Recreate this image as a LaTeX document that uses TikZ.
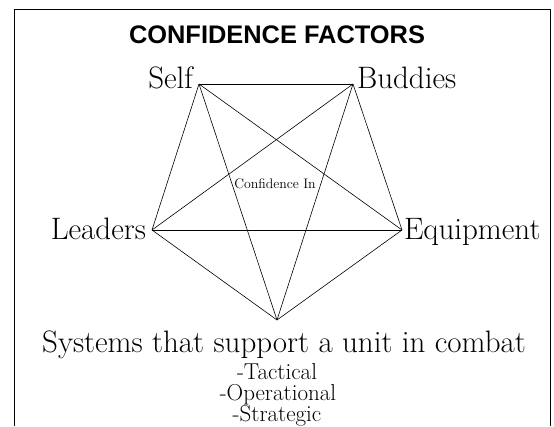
\documentclass[tikz,border=0pt]{standalone}
\usepackage{fontspec}
\newfontfamily\titlefont{Liberation Sans}

\tikzset{
  every node/.style={inner sep=0pt, outer sep=0pt},
  factor/.style={font=\fontsize{31}{34}\selectfont},
  level/.style={font=\fontsize{23}{25}\selectfont, anchor=base},
  tie/.style={line width=0.6pt},
}

\begin{document}
\begin{tikzpicture}[x=1pt, y=-1pt]
\useasboundingbox (0,0) rectangle (554,426);

% frame, open at the bottom
\draw[line width=0.9pt] (14,426) -- (14,9.5) -- (550,9.5) -- (550,426);

\node[font=\titlefont\bfseries\fontsize{25.4}{30}\selectfont, anchor=base] (title) at (277,43) {CONFIDENCE FACTORS};

% corners of the star
\coordinate (self) at (199,84);
\coordinate (buddies) at (353,84);
\coordinate (leaders) at (152,230);
\coordinate (equipment) at (402,230);
\coordinate (systems) at (277,320);

\node[factor, anchor=base east] (selflbl) at (193,88) {Self};
\node[factor, anchor=base west] (buddieslbl) at (357,88) {Buddies};
\node[factor, anchor=base east] (leaderslbl) at (146,239) {Leaders};
\node[factor, anchor=base west] (equipmentlbl) at (404,239) {Equipment};
\node[factor, anchor=base] (systemslbl) at (284,352) {Systems that support a unit in combat};

\node[level] (tactical) at (277,379) {-Tactical};
\node[level] (operational) at (278,400) {-Operational};
\node[level] (strategic) at (277,421) {-Strategic};

\node[font=\fontsize{13.8}{16}\selectfont, anchor=base] (center) at (275,188) {Confidence In};

% every corner tied to every other one
\foreach \a/\b in {self/buddies, self/leaders, self/equipment, self/systems,
                   buddies/leaders, buddies/equipment, buddies/systems,
                   leaders/equipment, leaders/systems, equipment/systems}
  \draw[tie] (\a) -- (\b);
\end{tikzpicture}
\end{document}
